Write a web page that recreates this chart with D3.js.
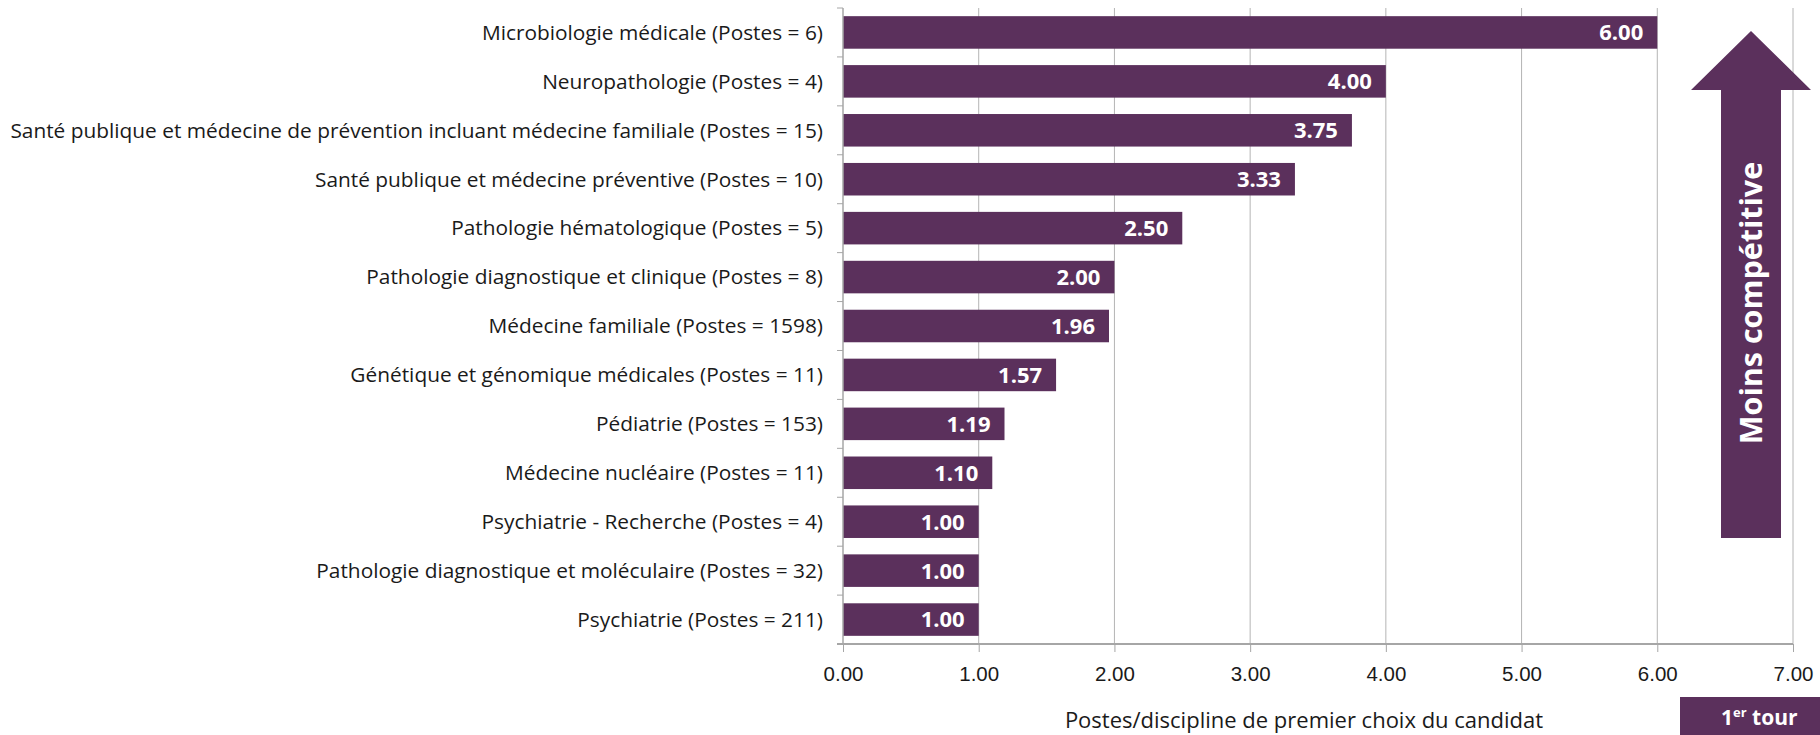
<!doctype html>
<meta charset="utf-8">
<title>Postes par discipline</title>
<style>
    html, body {
        margin: 0;
        background: white;
    }
    svg {
        display: block;
        font-family: "Open Sans", "Noto Sans", sans-serif;
    }
    .grid line {
        stroke: #b4b4b4;
        stroke-width: 1;
    }
    .axis path,
    .axis line {
        stroke: #a6a6a6;
    }
    .axis text {
        fill: #1a1a1a;
    }
    .bar {
        fill: #5b305c;
    }
    .value {
        fill: white;
        font-weight: bold;
    }
</style>
<svg width=1820 height=735></svg>
<script src="https://d3js.org/d3.v7.min.js"></script>
<script>
    // disciplines, du haut vers le bas
    var disciplines = [
        'Microbiologie médicale',
        'Neuropathologie',
        'Santé publique et médecine de prévention incluant médecine familiale',
        'Santé publique et médecine préventive',
        'Pathologie hématologique',
        'Pathologie diagnostique et clinique',
        'Médecine familiale',
        'Génétique et génomique médicales',
        'Pédiatrie',
        'Médecine nucléaire',
        'Psychiatrie - Recherche',
        'Pathologie diagnostique et moléculaire',
        'Psychiatrie'
    ];
    var postes = [6, 4, 15, 10, 5, 8, 1598, 11, 153, 11, 4, 32, 211];
    var ratios = [6.00, 4.00, 3.75, 3.33, 2.50, 2.00, 1.96, 1.57, 1.19, 1.10, 1.00, 1.00, 1.00];
    var xTicks = [0, 1, 2, 3, 4, 5, 6, 7];

    var axisTitle = 'Postes/discipline de premier choix du candidat';
    var arrowText = 'Moins compétitive';

    var svg = d3.select('svg');
    var margin = { top: 8, left: 843, right: 27, bottom: 91 };
    var width = +svg.attr('width') - margin.left - margin.right;
    var height = +svg.attr('height') - margin.top - margin.bottom;
    var g = svg.append('g').attr('transform', 'translate(' + margin.left + ',' + margin.top + ')');

    var rows = disciplines.map(function (d, i) {
        return { name: d, label: d + ' (Postes = ' + postes[i] + ')', value: ratios[i] };
    });

    var x = d3.scaleLinear().domain([0, 7]).range([0, width]);
    var y = d3.scaleBand().domain(rows.map(function (d) { return d.label; }))
        .range([0, height]).paddingInner(0.335).paddingOuter(0.167);

    // vertical gridlines
    g.append('g')
        .attr('class', 'grid')
        .selectAll('line')
        .data(xTicks.slice(1))
        .enter()
        .append('line')
        .attr('x1', x).attr('x2', x)
        .attr('y1', 0).attr('y2', height);

    // bars
    g.selectAll('.bar')
        .data(rows)
        .enter()
        .append('rect')
        .attr('class', 'bar')
        .attr('x', 0)
        .attr('y', function (d) { return y(d.label); })
        .attr('width', function (d) { return x(d.value); })
        .attr('height', y.bandwidth());

    g.selectAll('.value')
        .data(rows)
        .enter()
        .append('text')
        .attr('class', 'value')
        .attr('x', function (d) { return x(d.value) - 14; })
        .attr('y', function (d) { return y(d.label) + y.bandwidth() / 2; })
        .attr('dy', '0.36em')
        .attr('text-anchor', 'end')
        .style('font-size', '22px')
        .text(function (d) { return d.value.toFixed(2); });

    // x axis
    var xAxis = g.append('g')
        .attr('class', 'axis x')
        .attr('transform', 'translate(0,' + height + ')')
        .call(d3.axisBottom(x).tickValues(xTicks).tickFormat(d3.format('.2f')).tickSize(8).tickSizeOuter(0).tickPadding(14));
    xAxis.select('.domain').attr('stroke-width', 2).attr('d', 'M-6,0H' + width);
    xAxis.selectAll('text').style('font-size', '20.5px');

    // y axis: line plus little ticks between categories
    var yAxis = g.append('g').attr('class', 'axis y');
    yAxis.append('line')
        .attr('x1', 0).attr('x2', 0)
        .attr('y1', 0).attr('y2', height)
        .attr('stroke-width', 1.5);
    var step = y.step();
    yAxis.selectAll('.ytick')
        .data(d3.range(rows.length + 1))
        .enter()
        .append('line')
        .attr('class', 'ytick')
        .attr('x1', -6).attr('x2', 0)
        .attr('y1', function (i) { return i * step; })
        .attr('y2', function (i) { return i * step; });

    yAxis.selectAll('.cat')
        .data(rows)
        .enter()
        .append('text')
        .attr('class', 'cat')
        .attr('x', -20)
        .attr('y', function (d) { return y(d.label) + y.bandwidth() / 2; })
        .attr('dy', '0.35em')
        .attr('text-anchor', 'end')
        .style('font-size', '20.85px')
        .text(function (d) { return d.label; });

    // axis title
    svg.append('text')
        .attr('x', margin.left + width / 2 - 14)
        .attr('y', 728)
        .attr('text-anchor', 'middle')
        .style('font-size', '22px')
        .style('fill', '#1a1a1a')
        .text(axisTitle);

    // arrow "Moins compétitive"
    var ax = 1751, arrowTop = 31, headBase = 90, arrowBottom = 538, headHalf = 60, shaftHalf = 30;
    svg.append('path')
        .attr('fill', '#5b305c')
        .attr('d', 'M' + ax + ',' + arrowTop +
            'L' + (ax + headHalf) + ',' + headBase +
            'L' + (ax + shaftHalf) + ',' + headBase +
            'L' + (ax + shaftHalf) + ',' + arrowBottom +
            'L' + (ax - shaftHalf) + ',' + arrowBottom +
            'L' + (ax - shaftHalf) + ',' + headBase +
            'L' + (ax - headHalf) + ',' + headBase + 'Z');
    svg.append('text')
        .attr('transform', 'translate(' + (ax + 11) + ',' + 303 + ') rotate(-90)')
        .attr('text-anchor', 'middle')
        .style('fill', 'white')
        .style('font-weight', 'bold')
        .style('font-size', '30.5px')
        .text(arrowText);

    // "1er tour" tag
    svg.append('rect')
        .attr('x', 1680).attr('y', 697)
        .attr('width', 140).attr('height', 38)
        .attr('fill', '#5b305c');
    var tag = svg.append('text')
        .attr('x', 1721).attr('y', 725)
        .style('fill', 'white')
        .style('font-weight', 'bold')
        .style('font-size', '21px');
    tag.append('tspan').text('1');
    tag.append('tspan').attr('dy', -8).style('font-size', '13px').text('er');
    tag.append('tspan').attr('dy', 8).text(' tour');
</script>
